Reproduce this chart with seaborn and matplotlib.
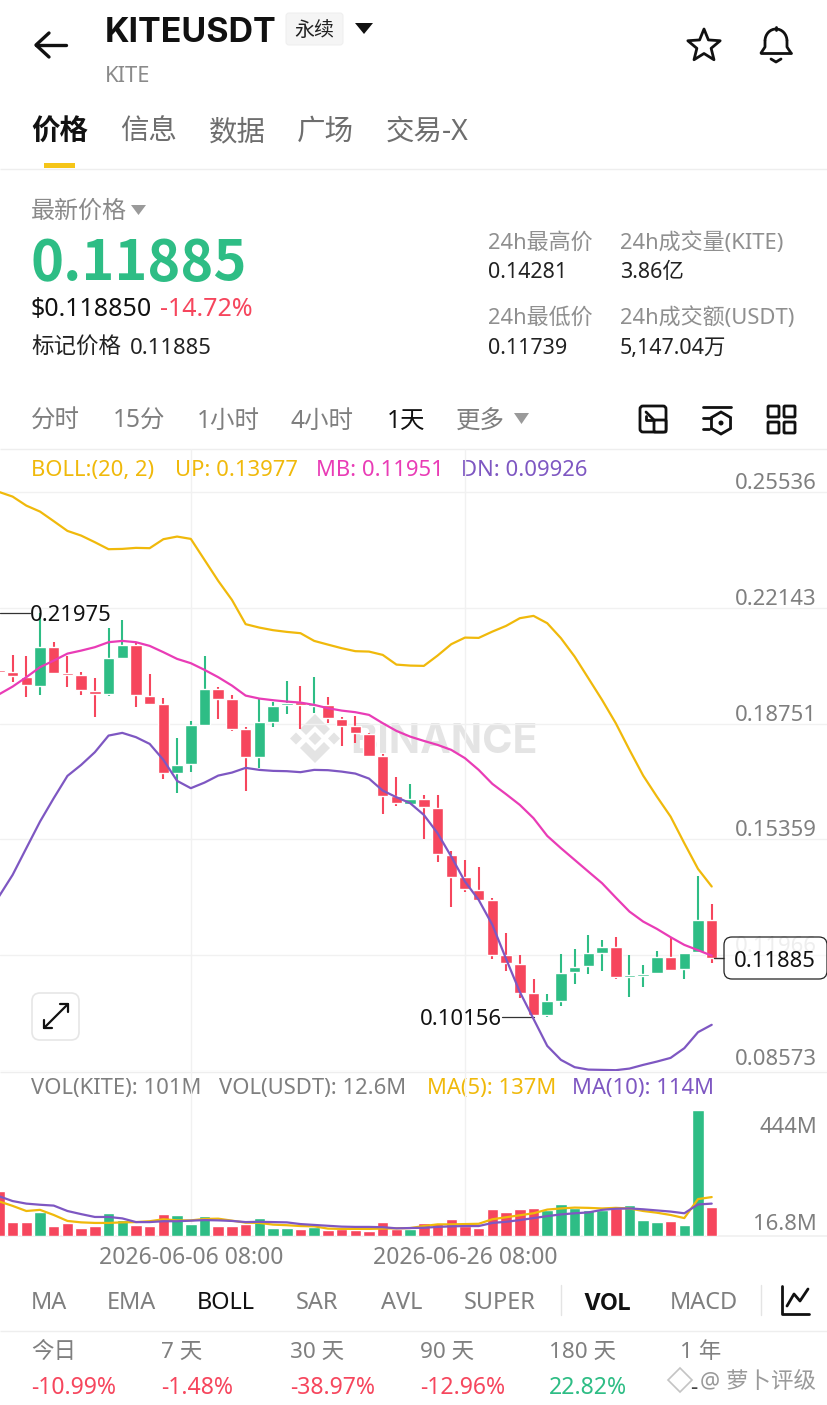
import numpy as np
import pandas as pd
import seaborn as sns
from matplotlib import pyplot as plt
from matplotlib.patches import FancyBboxPatch, Polygon, Rectangle, Circle, Arc

# candle values, oldest first
opens = [.20322, .20255, .20126, .19862, .20987, .20234, .20176, .19707, .19610, .20674, .21063, .19560, .19326,
         .17305, .17560, .18711, .19765, .19464, .18585, .17765, .18808, .19288, .19376, .19276, .19297, .18896,
         .18673, .18456, .17803, .16622, .16406, .16552, .16280, .14912, .14250, .13887, .13576, .11965, .11719,
         .10852, .10217, .10636, .11476, .11643, .12042, .12208, .11330, .11350, .11438, .11907, .11555, .12053,
         .12990]
closes = [.20272, .20137, .19874, .20987, .20234, .20176, .19728, .19610, .20674, .21063, .19581, .19335, .17305,
          .17539, .18711, .19765, .19473, .18585, .17765, .18799, .19268, .19346, .19297, .19326, .18925, .18682,
          .18477, .17803, .16640, .16418, .16552, .16300, .14932, .14259, .13898, .13594, .11974, .11740, .10861,
          .10217, .10618, .11456, .11623, .12024, .12208, .11339, .11388, .11427, .11907, .11544, .12033, .12990,
          .11885]
highs = [.20498, .20770, .20741, .21975, .21151, .20741, .20255, .20097, .21561, .21795, .21104, .20214, .19511,
         .18339, .18837, .20741, .19833, .19590, .18661, .19464, .19394, .19991, .19853, .20126, .19522, .18954,
         .18983, .18468, .17862, .17179, .16983, .16661, .16661, .15029, .14757, .14552, .13652, .12609, .11965,
         .11262, .10823, .12003, .12150, .12560, .12422, .12493, .11983, .11681, .12082, .12493, .12042, .14281,
         .13459]
lows = [.20088, .19962, .19522, .19590, .20219, .19824, .19581, .18936, .19560, .20659, .19229, .19297, .17138,
        .16710, .17326, .18690, .18887, .18544, .16786, .17460, .18661, .19033, .18585, .19071, .18770, .18096,
        .18175, .17783, .16095, .16347, .16397, .15381, .14689, .13389, .13828, .13579, .11866, .11497, .10715,
        .10187, .10156, .10480, .11116, .11427, .11505, .11271, .10753, .11045, .11423, .11514, .11262, .12038,
        .11739]

# bollinger bands
boll_up = [.25536, .25398, .25134, .24959, .24678, .24393, .24256, .24062, .23857, .23866, .23896, .23887, .24150,
           .24227, .24159, .23544, .22929, .22372, .21661, .21561, .21485, .21435, .21397, .21171, .21063, .20958,
           .20870, .20858, .20761, .20477, .20448, .20439, .20741, .21075, .21268, .21259, .21444, .21611, .21836,
           .21904, .21690, .21251, .20712, .20079, .19443, .18761, .17979, .17226, .16611, .16025, .15246, .14493,
           .13977]
boll_mb = [.19604, .19833, .20108, .20401, .20594, .20799, .20887, .20987, .21133, .21171, .21133, .21025, .20840,
           .20644, .20518, .20322, .20108, .19862, .19569, .19482, .19434, .19394, .19364, .19297, .19200, .19130,
           .19083, .19004, .18761, .18535, .18368, .18242, .18125, .17979, .17736, .17393, .16983, .16681, .16368,
           .15978, .15460, .15100, .14757, .14414, .14074, .13653, .13243, .12950, .12736, .12493, .12267, .12112,
           .11951]
boll_dn = [.13682, .14317, .15100, .15879, .16564, .17217, .17539, .17911, .18398, .18477, .18351, .18154, .17686,
           .17071, .16857, .17021, .17226, .17314, .17452, .17393, .17364, .17355, .17326, .17393, .17384, .17343,
           .17285, .17138, .16786, .16593, .16418, .16075, .15539, .14853, .14121, .13585, .12853, .11857, .10890,
           .10099, .09309, .08899, .08685, .08614, .08606, .08597, .08644, .08752, .08849, .08957, .09241, .09710,
           .09926]

# volume in millions
volume = [157, 48, 48, 84, 34, 45, 29, 36, 80, 56, 39, 36, 76, 73, 42, 71, 35, 34, 42, 62, 27, 28, 26, 32, 20, 25,
          22, 16.8, 48, 24, 24, 46, 45, 59, 35, 28, 95, 84, 94, 100, 92, 112, 100, 92, 92, 98, 110, 56, 48, 53, 39,
          444, 101]
vol_ma5 = [122, 106, 88, 92, 74, 53, 48, 46, 46, 48, 49, 52, 59, 55, 55, 60, 61, 54, 47, 46, 40, 38, 35, 34, 26, 25,
           25, 25, 26, 27, 28, 35, 41, 41, 42, 43, 59, 66, 73, 80, 93, 97, 100, 99, 97, 99, 97, 88, 82, 74, 63, 130,
           137]
vol_ma10 = [140, 123, 114, 110, 107, 88, 77, 67, 67, 62, 49, 49, 52, 52, 54, 56, 55, 53, 49, 50, 49, 48, 42, 39, 36,
            33, 32, 32, 31, 27, 28, 29, 32, 34, 35, 35, 46, 50, 56, 63, 70, 76, 80, 83, 92, 96, 97, 94, 90, 86, 80,
            111, 114]

price_ticks = [.25536, .22143, .18751, .15359, .11966, .08573]
price_tick_labels = ["0.25536", "0.22143", "0.18751", "0.15359", "0.11966", "0.08573"]
date_ticks = [14, 34]
date_labels = ["2026-06-06 08:00", "2026-06-26 08:00"]

GREEN = "#2EBD85"
RED = "#F6465D"
YELLOW = "#F0B90B"
PINK = "#E93CB6"
PURPLE = "#7E57C2"
GREY = "#7F7F7F"
GRID = "#F1F1F1"
BLACK = "#111111"

W, H = 828, 1405
sns.set_theme(style="white")
plt.rcParams["font.family"] = ["Noto Sans", "Noto Sans CJK SC", "DejaVu Sans"]

df = pd.DataFrame({"open": opens, "close": closes, "high": highs, "low": lows, "volume": volume,
                   "up": boll_up, "mb": boll_mb, "dn": boll_dn, "ma5": vol_ma5, "ma10": vol_ma10})
df["pos"] = np.arange(len(df))
df["side"] = np.where(df["close"] >= df["open"], "rise", "fall")
side_colors = {"rise": GREEN, "fall": RED}

fig = plt.figure(figsize=(W / 100, H / 100), dpi=100, facecolor="white")


def panel(top, bottom, z):
    return fig.add_axes([0, 1 - bottom / H, 1, (bottom - top) / H], zorder=z, facecolor="none")


ui = panel(0, H, 0)
ui.set_xlim(0, W)
ui.set_ylim(H, 0)
ui.axis("off")
top = panel(0, H, 5)
top.set_xlim(0, W)
top.set_ylim(H, 0)
top.axis("off")


def label(x, y, s, size=22, color=GREY, ha="left", weight="normal", ax=ui, **kw):
    ax.text(x, y, s, fontsize=size * 0.72, color=color, ha=ha, va="center_baseline", fontweight=weight, **kw)


def hline(y, color=GRID, lw=1.0):
    ui.plot([0, W], [y, y], color=color, lw=lw, solid_capstyle="butt")


def triangle(x0, x1, y0, y1, color):
    ui.add_patch(Polygon([[x0, y0], [x1, y0], [(x0 + x1) / 2, y1]], color=color, lw=0))


def stroke(xs, ys, lw=2.0, color=BLACK, ax=ui):
    ax.plot(xs, ys, color=color, lw=lw, solid_capstyle="round", solid_joinstyle="round")


def box(x, y, w, h, ax=ui, fc="none", ec=BLACK, lw=1.8, r=3, z=2):
    ax.add_patch(FancyBboxPatch((x + r, y + r), w - 2 * r, h - 2 * r, boxstyle=f"round,pad={r},rounding_size={r}",
                                fc=fc, ec=ec, lw=lw, zorder=z))


# header
stroke([36, 66], [45, 45], 2.4)
stroke([49, 36, 49], [33, 45, 57], 2.4)
label(105, 30, "KITEUSDT", 34, BLACK, weight="bold", family="Inter")
box(286, 13, 57, 32, fc="#F5F5F5", ec="#EEEEEE", lw=0.7)
label(314, 29, "永续", 20, "#222222", ha="center")
triangle(355, 373, 23, 34, BLACK)
label(105, 74, "KITE", 22, "#8A8A8A")
angles = np.deg2rad(np.arange(10) * 36 - 90)
radii = np.array([17, 7.5] * 5)
ui.add_patch(Polygon(np.c_[704 + radii * np.cos(angles), 46 + radii * np.sin(angles)], fc="none", ec=BLACK, lw=2.0,
                     joinstyle="round"))
stroke([761, 765, 765], [53, 47, 41], 2.0)
stroke([791, 787, 787], [53, 47, 41], 2.0)
ui.add_patch(Arc((776, 41), 22, 24, theta1=180, theta2=360, ec=BLACK, lw=2.0))
stroke([761, 791], [53, 53], 2.0)
stroke([771, 776, 781], [59, 62, 59], 2.0)
stroke([776, 776], [27, 30], 2.0)

# tabs
label(31, 129, "价格", 28.5, BLACK, weight="bold")
for x, s in zip([120, 209, 297, 386], ["信息", "数据", "广场", "交易-X"]):
    label(x, 129, s, 28.5, "#6E6E6E")
ui.add_patch(Rectangle((44, 163), 31, 5, color="#F5C518", lw=0))
hline(168.5, "#EEEEEE")

# price summary
label(31, 209, "最新价格", 24, "#8A8A8A")
triangle(131, 146, 205, 215, "#9A9A9A")
label(31, 258, "0.11885", 56, GREEN, weight="bold", family="Noto Sans CJK SC")
label(31, 306, "$0.118850", 25, BLACK)
label(160, 306, "-14.72%", 25, RED)
label(31, 345, "标记价格", 22.5, "#222222")
label(130, 346, "0.11885", 22, "#222222")
for x, y, s in [(488, 241, "24h最高价"), (620, 241, "24h成交量(KITE)"), (488, 316, "24h最低价"), (620, 316, "24h成交额(USDT)")]:
    label(x, y, s, 22, "#8F8F8F")
for x, y, s in [(488, 270, "0.14281"), (620, 270, "3.86亿"), (488, 346, "0.11739"), (620, 346, "5,147.04万")]:
    label(x, y, s, 21.5, "#222222")

# timeframe row
for x, s in zip([31, 113, 197, 291, 456], ["分时", "15分", "1小时", "4小时", "更多"]):
    label(x, 418, s, 24.5, GREY)
label(387, 418, "1天", 24.5, BLACK)
triangle(514, 529, 413, 424, "#9A9A9A")
box(640, 406, 26, 26, lw=2.0)
box(654, 420, 12, 12, fc="white", lw=2.0, r=1)
stroke([646, 654], [412, 420], 2.0)
stroke([646, 646, 652], [416, 420, 420], 2.0)
stroke([703, 731], [407, 407], 2.0)
stroke([703, 711], [418, 418], 2.0)
stroke([703, 709], [429, 429], 2.0)
hex_angles = np.deg2rad(np.arange(6) * 60 + 30)
ui.add_patch(Polygon(np.c_[721 + 11 * np.cos(hex_angles), 423 + 11 * np.sin(hex_angles)], fc="none", ec=BLACK, lw=2.0))
ui.add_patch(Circle((721, 423), 2.5, color=BLACK, lw=0))
for bx in (768, 784):
    for by in (406, 422):
        box(bx, by, 11, 11, lw=2.0, r=1)
hline(448.5, "#EEEEEE")
hline(1071.5, "#EEEEEE")

# binance watermark
WM = "#E4E4E4"
ui.add_patch(Polygon([[315, 714], [330, 729], [324, 735], [315, 726], [306, 735], [300, 729]], color=WM, lw=0))
ui.add_patch(Polygon([[315, 763], [330, 748], [324, 742], [315, 751], [306, 742], [300, 748]], color=WM, lw=0))
for cx, s in [(296, 6), (334, 6), (315, 6.5)]:
    ui.add_patch(Polygon([[cx - s, 738.5], [cx, 738.5 - s], [cx + s, 738.5], [cx, 738.5 + s]], color=WM, lw=0))
label(350, 738, "BINANCE", 41, WM, weight="bold", family="Inter")

# candles, x runs so the bars land on the same pixel columns as the source
slot = 13.708
x_left = 1.1 / slot
x_right = (W + 1.1) / slot
px_per_price = 3414
ax = panel(449, 1071, 1)
ax.set_xlim(x_left, x_right)
ax.set_ylim(.08573, .08573 + (1071 - 449) / px_per_price)
for side, part in df.groupby("side"):
    ax.vlines(part["pos"], part["low"], part["high"], color=side_colors[side], lw=1.5, zorder=3)
    ax.bar(part["pos"], (part["close"] - part["open"]).abs(), bottom=part[["open", "close"]].min(axis=1),
           width=0.84, color=side_colors[side], zorder=3)
sns.lineplot(data=df, x="pos", y="up", color=YELLOW, lw=1.6, ax=ax, zorder=4)
sns.lineplot(data=df, x="pos", y="mb", color=PINK, lw=1.6, ax=ax, zorder=4)
sns.lineplot(data=df, x="pos", y="dn", color=PURPLE, lw=1.6, ax=ax, zorder=4)
ax.set_xlim(x_left, x_right)
ax.set_xticks(date_ticks)
ax.set_yticks(price_ticks)
ax.set_xlabel("")
ax.set_ylabel("")
ax.tick_params(length=0, labelleft=False, labelbottom=False)
ax.grid(True, color=GRID, lw=1.0)
ax.set_axisbelow(True)
sns.despine(ax=ax, left=True, bottom=True, right=True, top=True)

# price labels on the right
for value, text in zip(price_ticks, price_tick_labels):
    lift = 14 if text == "0.08573" else 11
    shade = "#DADADA" if text == "0.11966" else GREY
    ax.annotate(text, (817, value), xycoords=("figure pixels", "data"), xytext=(0, lift * 0.72),
                textcoords="offset points", fontsize=22 * 0.72, color=shade, ha="right", va="center_baseline", zorder=6)

# high and low markers
mark_x = (30 + 1.1) / slot
ax.plot([x_left, mark_x], [highs[3], highs[3]], color="#333333", lw=0.9, zorder=2)
ax.text(mark_x, highs[3], "0.21975", fontsize=22 * 0.72, color=BLACK, ha="left", va="center_baseline", zorder=6)
low_x = (502 + 1.1) / slot
ax.plot([low_x, df["pos"][39]], [lows[40], lows[40]], color="#333333", lw=0.9, zorder=2)
ax.text(low_x, lows[40], "0.10156", fontsize=22 * 0.72, color=BLACK, ha="right", va="center_baseline", zorder=6)

# last price tag
stroke([714, 724], [957.7, 957.7], 1.0, "#333333", top)
box(724, 937, 103, 42, ax=top, fc=(1, 1, 1, 0.55), ec="#222222", lw=0.9, r=8)
label(775, 959, "0.11885", 22, BLACK, ha="center", ax=top, zorder=4)

# expand button
box(32, 993, 47, 47, fc="white", ec="#E6E6E6", lw=1.2, r=8)
stroke([44, 68], [1028, 1004], 1.6)
stroke([44, 44, 52], [1020, 1028, 1028], 1.6)
stroke([60, 68, 68], [1004, 1004, 1012], 1.6)

# volume pane
vol = panel(1071, 1236, 1)
sns.barplot(data=df, x="pos", y="volume", hue="side", palette=side_colors, dodge=False, width=0.84, legend=False,
            ax=vol, saturation=1, zorder=3)
sns.lineplot(x=df["pos"].to_numpy(), y=df["ma5"].to_numpy(), color=YELLOW, lw=1.6, ax=vol, zorder=4)
sns.lineplot(x=df["pos"].to_numpy(), y=df["ma10"].to_numpy(), color=PURPLE, lw=1.6, ax=vol, zorder=4)
vol.set_xlim(x_left, x_right)
vol.set_ylim(0, 165 * 3.52)
vol.set_xticks(date_ticks)
vol.set_xticklabels(date_labels, fontsize=23 * 0.72, color=GREY)
vol.set_yticks([])
vol.set_xlabel("")
vol.set_ylabel("")
vol.tick_params(axis="x", length=0, pad=7)
vol.grid(True, axis="x", color=GRID, lw=1.0)
vol.set_axisbelow(True)
sns.despine(ax=vol, left=True, right=True, top=True)
vol.spines["bottom"].set_color(GRID)

# legends
label(31, 468, "BOLL:(20, 2)", 22, YELLOW)
label(175, 468, "UP: 0.13977", 22, YELLOW)
label(316, 468, "MB: 0.11951", 22, PINK)
label(461, 468, "DN: 0.09926", 22, PURPLE)
label(31, 1086, "VOL(KITE): 101M", 22, GREY)
label(219, 1086, "VOL(USDT): 12.6M", 22, GREY)
label(427, 1086, "MA(5): 137M", 22, YELLOW)
label(572, 1086, "MA(10): 114M", 22, PURPLE)
label(817, 1125, "444M", 22, GREY, ha="right", ax=top)
label(817, 1222, "16.8M", 22, GREY, ha="right", ax=top)

# indicator tabs
for x, s in zip([31, 107, 296, 381, 464, 670], ["MA", "EMA", "SAR", "AVL", "SUPER", "MACD"]):
    label(x, 1300, s, 23.5, GREY)
label(197, 1300, "BOLL", 23.5, BLACK)
label(583, 1301, "VOL", 23, BLACK, weight="bold", family="Inter")
for x in (561, 761):
    ui.plot([x, x], [1285, 1315], color="#E4E4E4", lw=1)
stroke([782, 782, 809], [1286, 1314, 1314], 2.0)
stroke([787, 794, 800, 808], [1306, 1294, 1301, 1289], 2.0)
hline(1331, "#EEEEEE")

# return row
returns = [(31, "今日", "-10.99%", RED), (161, "7 天", "-1.48%", RED), (290, "30 天", "-38.97%", RED),
           (420, "90 天", "-12.96%", RED), (549, "180 天", "22.82%", GREEN), (680, "1 年", "-", "#444444")]
for x, name, value, color in returns:
    label(x, 1350, name, 22.5, GREY)
    label(x + (10 if value == "-" else 0), 1385, value, 23, color)
label(700, 1380, "@ 萝卜评级", 22.5, "#9A9A9A")
ui.add_patch(Polygon([[668, 1380], [680, 1368], [692, 1380], [680, 1392]], fc="none", ec="#C4C4C4", lw=1.2))

fig.savefig("out.png", dpi=100)
